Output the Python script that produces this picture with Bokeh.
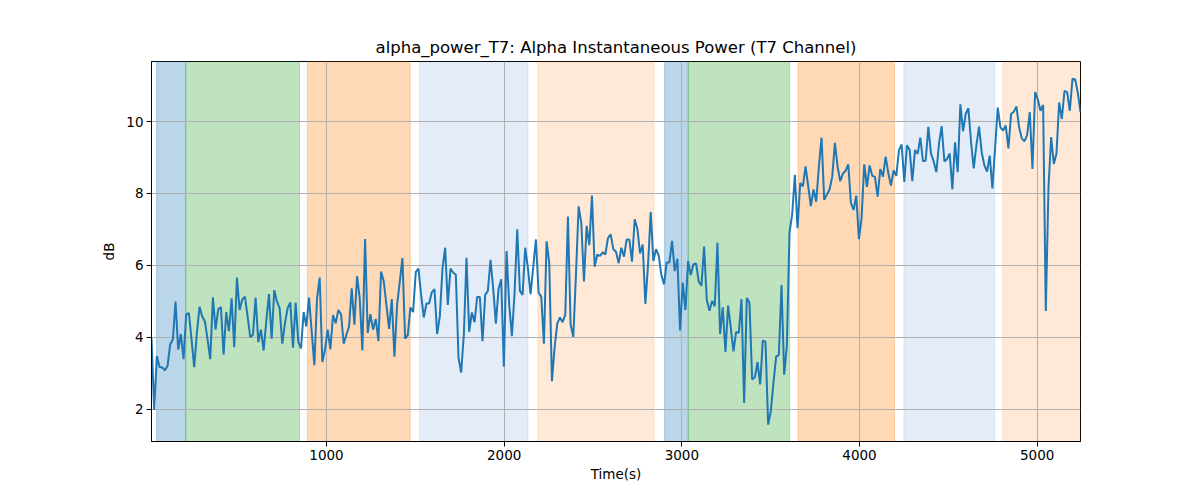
import numpy as np

from bokeh.plotting import figure
from bokeh.models import Range1d, FixedTicker
from bokeh.embed import file_html
from bokeh.resources import INLINE

# alpha power in dB, one value per sample
power_db = [
    3.98, 1.98, 3.48, 3.17, 3.16, 3.08, 3.2, 3.8, 3.94, 4.99, 3.66, 4.09, 3.39, 4.64, 4.67,
    3.94, 3.17, 4.12, 4.85, 4.58, 4.44, 3.94, 3.39, 5.11, 4.21, 4.78, 4.84, 3.52, 4.7, 4.17,
    5.08, 3.72, 5.66, 4.76, 5.05, 5.13, 4.58, 4.0, 4.07, 5.1, 3.87, 4.21, 3.63, 4.44, 5.2,
    3.96, 5.31, 4.99, 4.81, 3.82, 4.39, 4.81, 4.97, 3.71, 4.96, 3.87, 3.69, 4.7, 4.3,
    5.1, 4.17, 3.22, 5.08, 5.66, 3.31, 3.66, 4.21, 3.66, 4.62, 4.39, 4.76, 4.64, 3.82, 4.07,
    4.3, 5.36, 4.35, 5.7, 5.08, 3.63, 6.73, 4.12, 4.64, 4.21, 4.51, 3.89, 5.83, 5.56, 4.9,
    4.23, 5.06, 3.46, 4.9, 5.54, 6.2, 3.96, 4.06, 4.83, 4.7, 5.82, 5.91, 5.17, 4.55, 4.94,
    4.94, 5.25, 5.34, 4.09, 4.58, 5.91, 6.49, 4.9, 5.91, 5.8, 5.74, 3.43, 3.02,
    4.07, 6.21, 4.15, 4.69, 4.42, 5.12, 5.12, 3.89, 5.18, 5.29, 6.15, 5.36, 4.38, 5.34, 5.61,
    3.18, 6.4, 4.9, 4.03, 5.23, 7.0, 5.29, 5.18, 6.49, 5.92, 5.2, 5.96, 6.72, 5.24, 5.13,
    3.82, 6.67, 6.06, 2.78, 3.71, 4.38, 4.55, 4.42, 4.63, 7.36, 4.35, 4.01, 5.73, 7.64, 7.18,
    5.55, 7.1, 6.56, 7.94, 5.96, 6.3, 6.26, 6.36, 6.3, 6.76, 6.86, 6.45, 6.38,
    6.06, 6.49, 6.24, 6.72, 6.72, 6.1, 7.28, 7.02, 6.33, 6.58, 4.93, 6.01, 7.48, 6.12, 6.45,
    6.27, 5.73, 5.47, 6.08, 6.08, 6.68, 5.84, 6.18, 4.19, 5.52, 4.76, 6.12, 5.73, 6.03, 6.05,
    5.55, 5.43, 6.52, 5.04, 4.74, 5.01, 4.86, 6.63, 4.09, 4.83, 3.59, 4.88, 4.26, 3.61, 4.15,
    4.12, 5.06, 2.17, 5.09, 4.95, 2.83, 2.88, 3.31, 2.69, 3.91, 3.87, 1.57, 1.95,
    2.75, 3.46, 3.51, 5.45, 2.96, 3.76, 6.92, 7.42, 8.52, 7.03, 8.29, 8.2, 8.75, 8.2, 7.65,
    8.11, 7.77, 8.75, 9.55, 7.82, 7.97, 8.11, 8.46, 9.41, 8.75, 8.34, 8.55, 8.63, 8.81, 7.74,
    7.54, 7.94, 6.73, 7.33, 8.81, 8.18, 8.78, 8.49, 8.46, 7.91, 8.68, 8.47, 9.02, 8.57, 8.22,
    8.64, 8.49, 9.21, 9.36, 8.32, 9.34, 9.21, 8.34, 9.21, 9.1, 9.55, 8.9, 8.91, 9.85,
    9.11, 8.89, 8.59, 9.39, 9.87, 8.89, 8.96, 9.11, 8.11, 9.42, 8.59, 10.48, 9.73, 10.21, 10.37,
    9.43, 8.7, 9.34, 9.86, 9.14, 8.78, 8.61, 9.05, 8.14, 9.25, 10.39, 9.84, 9.75, 9.89, 9.25,
    10.21, 10.27, 10.42, 9.84, 9.53, 9.45, 9.62, 10.26, 8.68, 10.82, 10.62, 10.3, 10.46, 4.73, 8.16,
    9.57, 8.82, 9.11, 10.53, 10.07, 10.85, 10.82, 10.3, 11.19, 11.17, 10.8, 10.26,
]
t_first = 15
t_last = 5244

# shaded task segments (seconds)
band_start = [44, 208, 893, 1524, 2190, 2903, 3036, 3654, 4250, 4806]
band_end = [208, 848, 1471, 2134, 2843, 3036, 3607, 4197, 4761, 5300]
band_kind = ["blue", "green", "orange", "pale_blue", "pale_orange",
             "blue", "green", "orange", "pale_blue", "pale_orange"]

band_style = {
    "blue": ("#1f77b4", 0.3),
    "green": ("#2ca02c", 0.3),
    "orange": ("#ff7f0e", 0.3),
    "pale_blue": ("#4a7fd0", 0.15),
    "pale_orange": ("#ff7f0e", 0.17),
}

time_s = np.linspace(t_first, t_last, len(power_db))

p = figure(
    width=1184,
    height=484,
    output_backend="svg",
    toolbar_location=None,
    title="alpha_power_T7: Alpha Instantaneous Power (T7 Channel)",
    x_range=Range1d(t_first, t_last),
    y_range=Range1d(1.10, 11.67),
    min_border_left=151,
    min_border_right=104,
    min_border_top=61,
    min_border_bottom=42,
)
p.background_fill_color = "white"
p.border_fill_color = "white"
p.outline_line_color = "black"
p.outline_line_width = 1

p.title.align = "center"
p.title.text_font = "DejaVu Sans"
p.title.text_font_size = "16.5px"
p.title.text_font_style = "normal"
p.title.text_color = "black"

for kind in band_style:
    idx = [i for i, k in enumerate(band_kind) if k == kind]
    color, alpha = band_style[kind]
    p.quad(
        left=[band_start[i] for i in idx],
        right=[band_end[i] for i in idx],
        bottom=-100,
        top=100,
        fill_color=color,
        fill_alpha=alpha,
        line_color=color,
        line_alpha=alpha,
        line_width=1,
        level="image",
    )

p.line(time_s, power_db, line_color="#1f77b4", line_width=2)

p.xaxis.ticker = FixedTicker(ticks=[1000, 2000, 3000, 4000, 5000])
p.yaxis.ticker = FixedTicker(ticks=[2, 4, 6, 8, 10])
p.xaxis.axis_label = "Time(s)"
p.yaxis.axis_label = "dB"

for ax in (p.xaxis, p.yaxis):
    ax.axis_label_text_font = "DejaVu Sans"
    ax.axis_label_text_font_size = "13.5px"
    ax.axis_label_text_font_style = "normal"
    ax.axis_label_text_color = "black"
    ax.major_label_text_font = "DejaVu Sans"
    ax.major_label_text_font_size = "13.5px"
    ax.major_label_text_color = "black"
    ax.major_tick_out = 5
    ax.major_tick_in = 0
    ax.minor_tick_out = 0
    ax.minor_tick_in = 0
    ax.major_tick_line_color = "black"
    ax.axis_line_color = "black"
    ax.major_label_standoff = 3
    ax.axis_label_standoff = 3

p.yaxis.axis_label_standoff = 6

p.grid.grid_line_color = "#b0b0b0"
p.grid.grid_line_width = 1

open("out.html", "w").write(file_html(p, INLINE))
